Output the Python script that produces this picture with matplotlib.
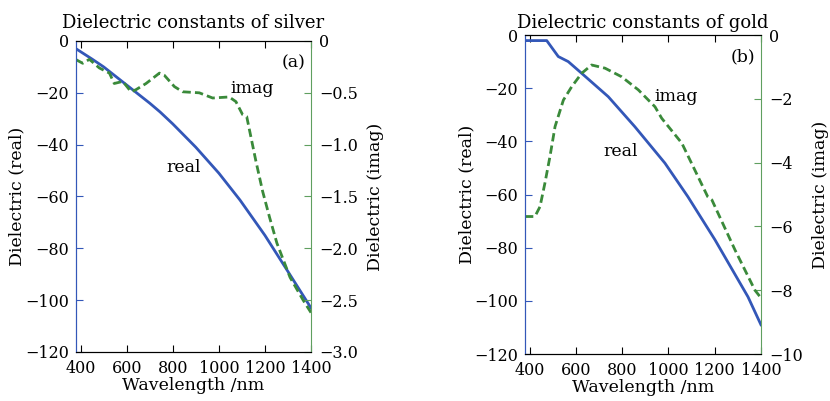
import numpy as np
import matplotlib.pyplot as plt
from matplotlib.ticker import FuncFormatter

plt.rcParams['font.family'] = ['DejaVu Serif']
plt.rcParams['font.size'] = 12.5

# silver (a)
ag_wl_real = [380, 450, 500, 600, 700, 745, 800, 900, 1000, 1092, 1200, 1296, 1400]
ag_real = [-3, -7, -10, -17, -24, -27.4, -32, -41, -51, -61.4, -75, -88.4, -103]
ag_wl_imag = [380, 409, 438, 481, 525, 546, 583, 619, 640, 684, 742, 763, 807, 843,
              915, 973, 1045, 1074, 1103, 1121, 1160, 1190, 1220, 1252, 1309, 1366, 1400]
ag_imag = [-0.18, -0.215, -0.177, -0.26, -0.31, -0.41, -0.39, -0.49, -0.47, -0.41,
           -0.31, -0.33, -0.44, -0.49, -0.50, -0.55, -0.54, -0.585, -0.71, -0.73,
           -1.15, -1.45, -1.70, -1.95, -2.28, -2.50, -2.62]

# gold (b)
au_wl_real = [380, 474, 524, 567, 625, 740, 855, 985, 1084, 1201, 1344, 1400]
au_real = [-2.1, -2.1, -8.1, -10.0, -14.4, -23.2, -34.5, -48.2, -60.8, -77, -98.5, -109]
au_wl_imag = [380, 423, 445, 466, 488, 510, 546, 582, 625, 668, 726, 798, 870, 942,
              971, 1058, 1170, 1188, 1288, 1374, 1400]
au_imag = [-5.69, -5.69, -5.38, -4.65, -3.81, -2.87, -2.04, -1.62, -1.20, -0.94,
           -1.04, -1.31, -1.72, -2.25, -2.61, -3.39, -5.07, -5.17, -6.74, -8.0, -8.24]

blue = '#3357b8'
green = '#3a8a3a'
spine_green = '#5f9f5f'
xticks = [400, 600, 800, 1000, 1200, 1400]
real_ticks = [0, -20, -40, -60, -80, -100, -120]


def fmt_a(v, pos):
    if v == 0:
        return '0'
    return f'{v:.1f}'.replace('-', '\u2212')


def fmt_b(v, pos):
    if v == 0:
        return '0'
    return f'{v:.0f}'.replace('-', '\u2212')


def panel(rect, wl_r, re, wl_i, im, imag_ticks, imag_lim, fmt, tag, title,
          real_pos, imag_pos, lab_x):
    ax = fig.add_axes(rect)
    ax2 = ax.twinx()
    ax.plot(wl_r, re, color=blue, lw=2)
    ax2.plot(wl_i, im, color=green, lw=2, ls=(0, (3, 1.5)))
    ax.set_xlim(380, 1400)
    ax.set_ylim(-120, 0)
    ax2.set_ylim(*imag_lim)
    ax.set_xticks(xticks)
    ax.set_yticks(real_ticks)
    ax2.set_yticks(imag_ticks)
    ax2.yaxis.set_major_formatter(FuncFormatter(fmt))
    ax.tick_params(axis='x', direction='in', top=True, length=5, pad=6, labelsize=11.5)
    ax.tick_params(axis='y', direction='in', color=blue, length=5, pad=5, labelsize=11.5)
    ax2.tick_params(axis='y', direction='in', color=spine_green, length=5, pad=6,
                    labelsize=11.5)
    ax.spines['left'].set_color(blue)
    ax2.spines['left'].set_color(blue)
    ax2.spines['right'].set_color(spine_green)
    ax.spines['right'].set_visible(False)
    ax.set_xlabel('Wavelength /nm', labelpad=0)
    ax.set_ylabel('Dielectric (real)')
    ax2.set_ylabel('Dielectric (imag)')
    ax.yaxis.set_label_coords(lab_x[0], 0.5)
    ax2.yaxis.set_label_coords(lab_x[1], 0.5)
    ax.text(0.975, 0.93, tag, transform=ax.transAxes, ha='right', va='center')
    ax.text(real_pos[0], real_pos[1], 'real', ha='center', va='center')
    ax.text(imag_pos[0], imag_pos[1], 'imag', ha='center', va='center')
    ax.set_title(title, fontsize=13)
    return ax


fig = plt.figure(figsize=(8.3, 4.01), dpi=100)
a = panel([0.0916, 0.1222, 0.2831, 0.7756], ag_wl_real, ag_real, ag_wl_imag, ag_imag,
          [0, -0.5, -1.0, -1.5, -2.0, -2.5, -3.0], (-3.0, 0), fmt_a, '(a)',
          'Dielectric constants of silver', (849, -49), (1144, -18.5), (-0.217, 1.238))
b = panel([0.6325, 0.1172, 0.2843, 0.7955], au_wl_real, au_real, au_wl_imag, au_imag,
          [0, -2, -4, -6, -8, -10], (-10, 0), fmt_b, '(b)',
          'Dielectric constants of gold', (795, -44), (1033, -23.3), (-0.212, 1.216))
# both titles share the same baseline in the figure
a.set_title(a.get_title(), fontsize=13, pad=0, y=1.0 + 13 / 311)
b.set_title(b.get_title(), fontsize=13, pad=0, y=1.0 + 7 / 319)

fig.savefig('out.png', dpi=100)
